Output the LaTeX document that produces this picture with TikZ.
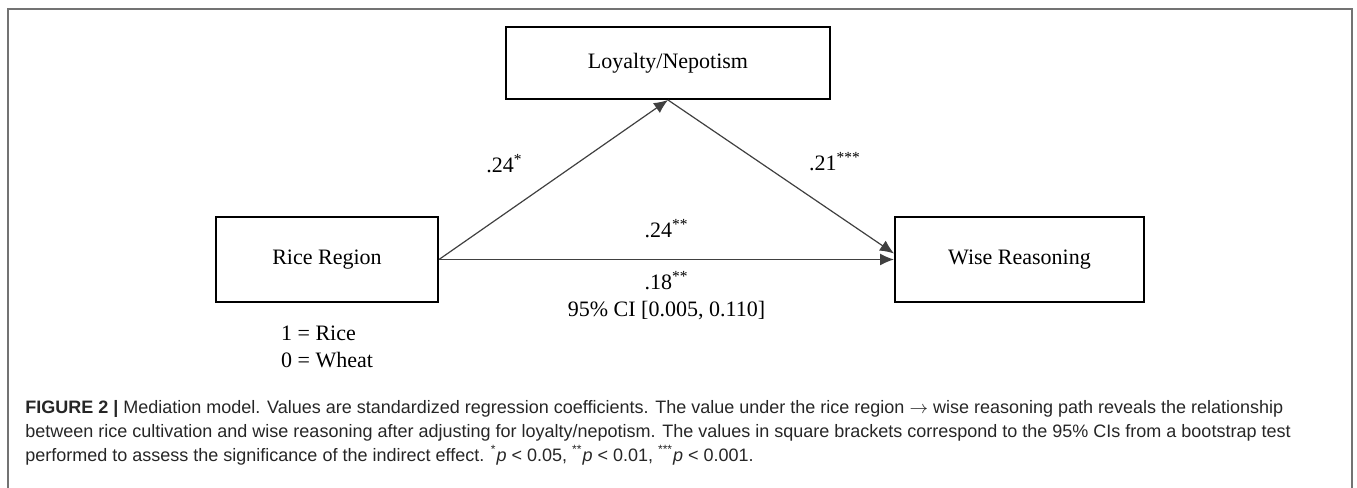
\documentclass[tikz,border=0pt]{standalone}
\usepackage{fontspec}
\setmainfont{Liberation Serif}
\setsansfont{Liberation Sans}
\usepackage{xcolor}
\usetikzlibrary{arrows.meta, positioning}

\begin{document}
\begin{tikzpicture}[
        block/.style={rectangle, draw=black, line width=1pt, minimum width=111pt, minimum height=42.5pt, align=center, font=\fontsize{11pt}{13.6pt}\selectfont},
        arrow/.style={-{Latex[length=7pt, width=6pt]}, line width=0.6pt, draw=black!75},
        coef/.style={font=\fontsize{11pt}{13.6pt}\selectfont, align=center},
        node distance=10pt and 10pt
    ]
        % page and frame
        \useasboundingbox (0,0) rectangle (678.5pt,244pt);
        \draw[black!55, line width=0.6pt] (4pt,0) |- (676pt,239.5pt) -- (676pt,0);

        % model
        \node[block] (rice) at (163.5pt,114.25pt) {Rice Region};
        \node[block, right=227.5pt of rice, minimum width=124.5pt] (wise) {Wise Reasoning};
        \node[block, above right=58pt and 33pt of rice, minimum width=162pt, minimum height=36pt] (loyal) {Loyalty/Nepotism};
        \node[coef, align=left, below=8pt of rice] (coding) {1 = Rice\\0 = Wheat};

        % paths
        \draw[arrow] (rice.east) -- node[coef, xshift=-24.5pt, yshift=8pt] {.24\textsuperscript{*}} (loyal.south);
        \draw[arrow] (loyal.south) -- node[coef, xshift=27pt, yshift=7.5pt] {.21\textsuperscript{***}} ([yshift=3pt]wise.west);
        \draw[arrow] (rice.east) -- node[coef, yshift=15.5pt] {.24\textsuperscript{**}}
            node[coef, yshift=-18.25pt] {.18\textsuperscript{**}\\95\% CI [0.005, 0.110]} (wise.west);

        % caption
        \node[anchor=north west, inner sep=0pt, align=left, text=black!85, font=\sffamily\fontsize{9pt}{12pt}\selectfont] (caption) at (12.5pt,44pt)
            {\textbf{FIGURE 2 |} Mediation model. Values are standardized regression coefficients. The value under the rice region $\rightarrow$ wise reasoning path reveals the relationship\\
             between rice cultivation and wise reasoning after adjusting for loyalty/nepotism. The values in square brackets correspond to the 95\% CIs from a bootstrap test\\
             performed to assess the significance of the indirect effect. \textsuperscript{*}\textit{p} < 0.05, \textsuperscript{**}\textit{p} < 0.01, \textsuperscript{***}\textit{p} < 0.001.};
\end{tikzpicture}
\end{document}
